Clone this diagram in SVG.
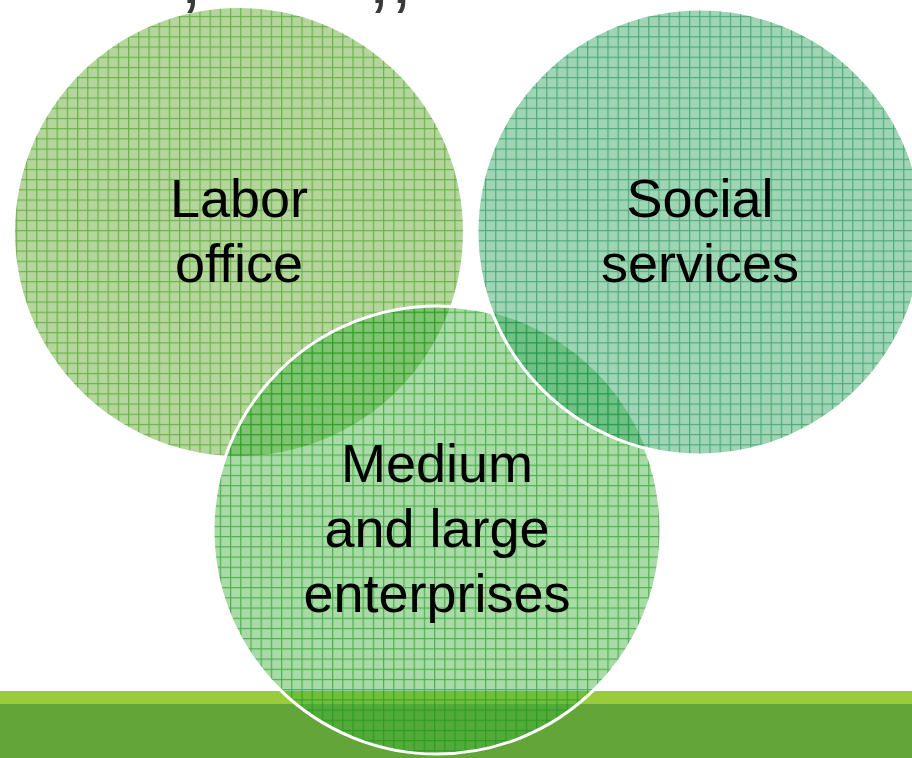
<svg xmlns="http://www.w3.org/2000/svg" width="912" height="758" viewBox="0 0 912 758">
  <style>
    .label { font-family: "Liberation Sans", Arial, sans-serif; font-size: 54px; fill: #000000; text-anchor: middle; }
    .frag { font-family: "Liberation Sans", Arial, sans-serif; font-size: 80px; fill: #3a3a3a; }
    .ring { fill: none; stroke: #ffffff; stroke-width: 3; }
  </style>
  <defs>
    <pattern id="gridLeft" patternUnits="userSpaceOnUse" x="5.6" y="5.7" width="10.2" height="10.2">
      <rect width="10.2" height="10.2" fill="#58a425" fill-opacity="0.45"/>
      <path d="M0.6 0V10.2M0 0.6H10.2" stroke="#3c9713" stroke-opacity="0.6" stroke-width="1.2" fill="none"/>
    </pattern>
    <pattern id="gridBottom" patternUnits="userSpaceOnUse" x="5.6" y="5.7" width="10.2" height="10.2">
      <rect width="10.2" height="10.2" fill="#3eaf39" fill-opacity="0.45"/>
      <path d="M0.6 0V10.2M0 0.6H10.2" stroke="#149317" stroke-opacity="0.6" stroke-width="1.2" fill="none"/>
    </pattern>
    <pattern id="gridRight" patternUnits="userSpaceOnUse" x="5.6" y="5.7" width="10.2" height="10.2">
      <rect width="10.2" height="10.2" fill="#2aa25b" fill-opacity="0.45"/>
      <path d="M0.6 0V10.2M0 0.6H10.2" stroke="#188f53" stroke-opacity="0.6" stroke-width="1.2" fill="none"/>
    </pattern>
    <mask id="outsideRight" maskUnits="userSpaceOnUse" x="0" y="0" width="912" height="758">
      <rect x="0" y="0" width="912" height="758" fill="#ffffff"/>
      <circle cx="700" cy="232" r="223" fill="#000000"/>
    </mask>
  </defs>

  <rect x="0" y="0" width="912" height="758" fill="#ffffff"/>

  <g id="title-fragment">
    <text class="frag" x="180" y="3">,</text>
    <text class="frag" x="368" y="3">,,</text>
  </g>

  <g id="footer-bands">
    <rect x="0" y="691" width="912" height="13" fill="#9acb3b"/>
    <rect x="0" y="704" width="912" height="54" fill="#63a538"/>
  </g>

  <g id="node-labor">
    <circle cx="239" cy="232" r="224" fill="url(#gridLeft)"/>
  </g>

  <g id="node-enterprises">
    <circle cx="437" cy="530" r="224" fill="url(#gridBottom)"/>
    <circle class="ring" cx="437" cy="530" r="224" mask="url(#outsideRight)"/>
  </g>

  <g id="node-social">
    <circle cx="700" cy="232" r="223" fill="url(#gridRight)"/>
    <circle class="ring" cx="700" cy="232" r="223"/>
  </g>

  <g id="labels">
    <text class="label" x="239" y="217">Labor</text>
    <text class="label" x="239" y="282">office</text>
    <text class="label" x="700" y="217">Social</text>
    <text class="label" x="700" y="282">services</text>
    <text class="label" x="437" y="482">Medium</text>
    <text class="label" x="437" y="547">and large</text>
    <text class="label" x="437" y="612">enterprises</text>
  </g>

  <g id="connectors"/>
</svg>
